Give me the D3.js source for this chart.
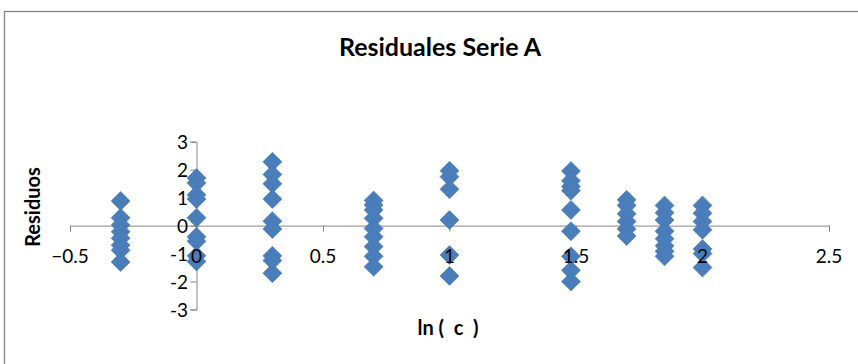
<!DOCTYPE html>
<html><head><meta charset="utf-8">
<script src="https://cdn.jsdelivr.net/npm/d3@7"></script>
<style>html,body{margin:0;padding:0;background:#fff;overflow:hidden}</style>
</head><body><svg id="c" width="858" height="364"></svg>
<script>
const xVals = [-0.30, 0.0, 0.30, 0.70, 1.0, 1.48, 1.70, 1.85, 2.0];
const residuals = [
  [0.88, 0.28, 0.02, -0.22, -0.45, -0.7, -0.88, -1.3],
  [1.7, 1.52, 1.1, 0.95, 0.28, -0.4, -0.56, -1.08, -1.28],
  [2.28, 1.83, 1.5, 0.95, 0.16, -0.12, -1.08, -1.25, -1.7],
  [0.9, 0.74, 0.56, 0.26, -0.1, -0.4, -0.75, -1.1, -1.47],
  [1.96, 1.75, 1.3, 0.2, -1.05, -1.8],
  [1.95, 1.6, 1.4, 1.25, 0.56, -0.2, -1.1, -1.6, -2.0],
  [0.92, 0.72, 0.42, 0.15, -0.12, -0.37],
  [0.72, 0.46, 0.2, -0.2, -0.47, -0.72, -0.92, -1.1],
  [0.72, 0.44, 0.15, -0.15, -0.84, -1.0, -1.5]
];
const xTicks = [-0.5, 0, 0.5, 1, 1.5, 2, 2.5];
const yTicks = [-3, -2, -1, 0, 1, 2, 3];
const title = "Residuales Serie A";
const xTitle = "ln (  c  )";
const yTitle = "Residuos";

const points = [];
xVals.forEach((xv, i) => residuals[i].forEach(r => points.push({x: xv, y: r})));

const svg = d3.select("#c");
const font = "Lato, 'Open Sans', sans-serif";
const x = d3.scaleLinear().domain([-0.5, 2.5]).range([70, 829]);
const y = d3.scaleLinear().domain([-3, 3]).range([309.5, 141.7]);
const axisColor = "#868686";

svg.append("rect").attr("x", 4.5).attr("y", 11.5).attr("width", 900).attr("height", 400)
  .attr("fill", "#fff").attr("stroke", axisColor).attr("stroke-width", 1.3);

const gx = svg.append("g").attr("transform", `translate(0,${y(0)})`)
  .call(d3.axisBottom(x).tickValues(xTicks).tickSize(6).tickFormat(""));
gx.select(".domain").attr("stroke", axisColor);
gx.selectAll(".tick line").attr("stroke", axisColor);

const gy = svg.append("g").attr("transform", `translate(${x(0)},0)`)
  .call(d3.axisLeft(y).tickValues(yTicks).tickSize(6).tickSizeOuter(6).tickFormat(""));
gy.select(".domain").attr("stroke", axisColor);
gy.selectAll(".tick line").attr("stroke", axisColor);

const s = 9.5;
svg.append("g").selectAll("path").data(points).join("path")
  .attr("d", `M0,${-s}L${s},0L0,${s}L${-s},0Z`)
  .attr("transform", d => `translate(${x(d.x)},${y(d.y)})`)
  .attr("fill", "#4a7ebb").attr("stroke", "#4676b2").attr("stroke-width", 0.6);

svg.append("g").selectAll("text").data(xTicks).join("text")
  .attr("x", d => x(d)).attr("y", 263).attr("text-anchor", "middle")
  .attr("font-family", font).attr("font-size", 19).attr("fill", "#000")
  .text(d => d3.format("")(d));
svg.append("g").selectAll("text").data(yTicks).join("text")
  .attr("x", 188).attr("y", d => y(d) + 7).attr("text-anchor", "end")
  .attr("font-family", font).attr("font-size", 19).attr("fill", "#000")
  .text(d => d);

svg.append("text").attr("x", 440).attr("y", 56).attr("text-anchor", "middle")
  .attr("font-family", font).attr("font-weight", "bold").attr("font-size", 25).text(title);
svg.append("text").attr("x", 448).attr("y", 335).attr("text-anchor", "middle")
  .attr("font-family", font).attr("font-weight", "bold").attr("font-size", 20)
  .attr("xml:space", "preserve").style("white-space", "pre").text(xTitle);
svg.append("text").attr("transform", "translate(40,207) rotate(-90)").attr("text-anchor", "middle")
  .attr("font-family", font).attr("font-weight", "bold").attr("font-size", 20).text(yTitle);
</script></body></html>
